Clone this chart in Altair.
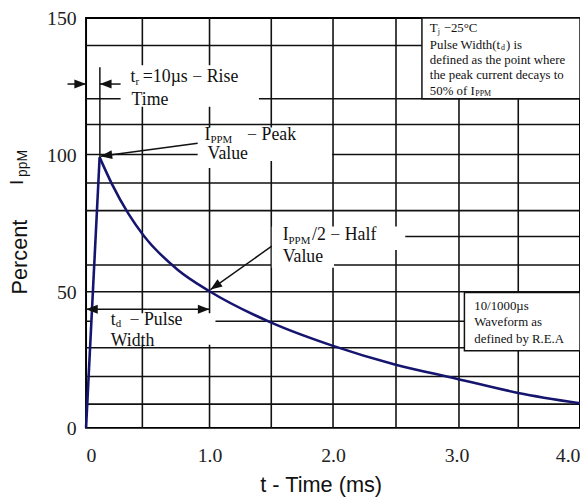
import math
import altair as alt
import pandas as pd

# ---- data ----
t_ms = [0, 0.11, 0.21, 0.344, 0.464, 0.744, 1.0, 1.5, 2.0, 2.5, 3.0, 3.5, 4.0]
pct = [0, 99, 89.2, 78.3, 70.5, 57.8, 50, 38.5, 30, 23.2, 18, 12.8, 9]
x_ticks = [0, 1, 2, 3, 4]
y_ticks = [0, 50, 100, 150]
v_grid = [0.456, 1.0, 1.5, 2.0, 2.51, 3.02, 3.5]
h_grid = [8.7, 18.8, 29.3, 39.0, 49.8, 59.6, 79.5, 89.6, 100, 111, 120.4, 139.9]

W, H = 500, 415
SERIF = "Liberation Serif"
SANS = "Liberation Sans"
INK = "#111111"

xs = alt.Scale(domain=[0, 4], nice=False, zero=False)
ys = alt.Scale(domain=[0, 150], nice=False, zero=False)

AX_X = alt.Axis(values=x_ticks, labelExpr="datum.value == 0 ? '0' : format(datum.value, '.1f')",
                labelFont=SERIF, labelFontSize=20, labelColor="#222", labelPadding=18,
                labelFlush=True, grid=False, ticks=False, domain=False, title=None)
AX_Y = alt.Axis(values=y_ticks, labelFont=SERIF, labelFontSize=20, labelColor="#222",
                labelPadding=10, labelBaseline="alphabetic", labelOffset=7,
                grid=False, ticks=False, domain=False, title=None)


def X(f):
    return alt.X(f"{f}:Q", scale=xs, axis=AX_X)


def Y(f):
    return alt.Y(f"{f}:Q", scale=ys, axis=AX_Y)


# ---- curve ----
curve_df = pd.DataFrame({"t": t_ms, "v": pct})
rise_df = curve_df.iloc[:2]
decay_df = curve_df.iloc[1:]

rise = alt.Chart(rise_df).mark_line(color="#15156f", strokeWidth=2.6).encode(x=X("t"), y=Y("v"))
decay = alt.Chart(decay_df).mark_line(color="#15156f", strokeWidth=2.6, interpolate="monotone").encode(
    x=X("t"), y=Y("v"))

# ---- grid ----
hg = alt.Chart(pd.DataFrame({"v": h_grid})).mark_rule(color=INK, strokeWidth=1.6).encode(y=Y("v"))
vg = alt.Chart(pd.DataFrame({"t": v_grid})).mark_rule(color=INK, strokeWidth=1.6).encode(x=X("t"))
part70 = alt.Chart(pd.DataFrame({"t": [2.584], "t2": [4.0], "v": [70]})).mark_rule(
    color=INK, strokeWidth=1.6).encode(x=X("t"), x2=alt.X2("t2"), y=Y("v"))

# ---- white boxes behind annotation text ----
boxes = pd.DataFrame({
    "t": [0.28, 0.904, 0.904, 1.504, 1.504, 0.048],
    "t2": [1.40, 1.992, 1.40, 2.584, 2.008, 1.048],
    "v": [132.7, 109.9, 98.3, 73.7, 65.1, 41.9],
    "v2": [117.5, 97.6, 95.1, 65.1, 58.6, 30.4],
})
white = alt.Chart(boxes).mark_rect(color="white").encode(
    x=X("t"), x2=alt.X2("t2"), y=Y("v"), y2=alt.Y2("v2"))

framed = pd.DataFrame({"t": [2.72, 3.064], "t2": [4.0, 4.0], "v": [150, 49.5], "v2": [120.4, 28.2]})
framed_boxes = alt.Chart(framed).mark_rect(fill="white", stroke=INK, strokeWidth=1.5).encode(
    x=X("t"), x2=alt.X2("t2"), y=Y("v"), y2=alt.Y2("v2"))

# ---- arrows ----
arrows = pd.DataFrame({
    "t0": [-0.15, 0.28, 0.904, 1.504, 0.5, 0.5],
    "v0": [125.8, 125.8, 104.1, 66.5, 43.4, 43.4],
    "t1": [0.0, 0.112, 0.117, 1.008, 0.0, 1.0],
    "v1": [125.8, 125.8, 99.4, 50.6, 43.4, 43.4],
})
arrows["ang"] = [
    math.degrees(math.atan2(-(r.v1 - r.v0) * H / 150, (r.t1 - r.t0) * W / 4)) % 360
    for r in arrows.itertuples()
]
arrow_lines = alt.Chart(arrows).mark_rule(color=INK, strokeWidth=1.5).encode(
    x=X("t0"), x2=alt.X2("t1"), y=Y("v0"), y2=alt.Y2("v1"))
arrow_heads = alt.Chart(arrows).mark_point(
    shape="M0,0L-1,-0.38L-1,0.38Z", filled=True, size=560, color=INK, opacity=1).encode(
    x=X("t1"), y=Y("v1"), angle=alt.Angle("ang:Q", scale=None))
marker = alt.Chart(pd.DataFrame({"t": [0.112], "v": [98.7], "v2": [131.9]})).mark_rule(
    color=INK, strokeWidth=1.5).encode(x=X("t"), y=Y("v"), y2=alt.Y2("v2"))


# ---- text ----
def label(t, v, s, size=18, font=SERIF, align="left", angle=0, baseline="middle"):
    df = pd.DataFrame({"t": [t], "v": [v], "s": [s]})
    return alt.Chart(df).mark_text(align=align, baseline=baseline, font=font, fontSize=size,
                                   angle=angle, color=INK).encode(x=X("t"), y=Y("v"), text="s:N")


texts = [
    # rise time
    label(0.36, 128.3, "t"), label(0.40, 126.6, "r", 11), label(0.46, 128.3, "=10µs  −  Rise"),
    label(0.368, 120.0, "Time"),
    # peak
    label(0.96, 107.3, "I"), label(1.008, 105.3, "PPM", 11), label(1.304, 107.3, "−  Peak"),
    label(0.984, 100.1, "Value"),
    # half value
    label(1.592, 70.5, "I"), label(1.64, 68.5, "PPM", 11), label(1.83, 70.5, " /2  −  Half"),
    label(1.592, 62.5, "Value"),
    # pulse width
    label(0.2, 39.4, "t"), label(0.24, 37.9, "d", 11), label(0.352, 39.4, "−  Pulse"),
    label(0.2, 31.8, "Width"),
    # top-right note
    label(2.784, 146.4, "T", 13), label(2.848, 145.0, "j", 8), label(2.896, 146.4, "−25°C", 13),
    label(2.784, 140.2, "Pulse Width(t", 13), label(3.36, 139.0, "d", 8), label(3.40, 140.2, " ) is", 13),
    label(2.784, 134.5, "defined as the point where", 13),
    label(2.784, 129.0, "the peak current decays to", 13),
    label(2.784, 123.2, "50% of I", 13), label(3.152, 122.0, "PPM", 8),
    # waveform note
    label(3.144, 44.5, "10/1000µs", 13),
    label(3.144, 38.7, "Waveform as", 13),
    label(3.144, 32.5, "defined  by R.E.A", 13),
    # axis titles
    label(-0.48, 62.5, "Percent", 22, SANS, "center", 270, "alphabetic"),
    label(-0.512, 88.9, "I", 19, SANS, "left", 270, "alphabetic"),
    label(-0.48, 91.8, "ppM", 14, SANS, "left", 270, "alphabetic"),
    label(1.904, -21.0, "t  - Time (ms)", 22, SANS, "center"),
]

chart = alt.layer(
    hg, vg, part70, white, framed_boxes, rise, decay, marker, arrow_lines, arrow_heads, *texts
).properties(
    width=W, height=H,
    autosize=alt.AutoSizeParams(type="none"),
    padding={"left": 79, "top": 7, "right": 0, "bottom": 72},
    background="white",
).configure_view(stroke="black", strokeWidth=2)

chart.save("out.html", embed_options={"renderer": "svg", "actions": False})
